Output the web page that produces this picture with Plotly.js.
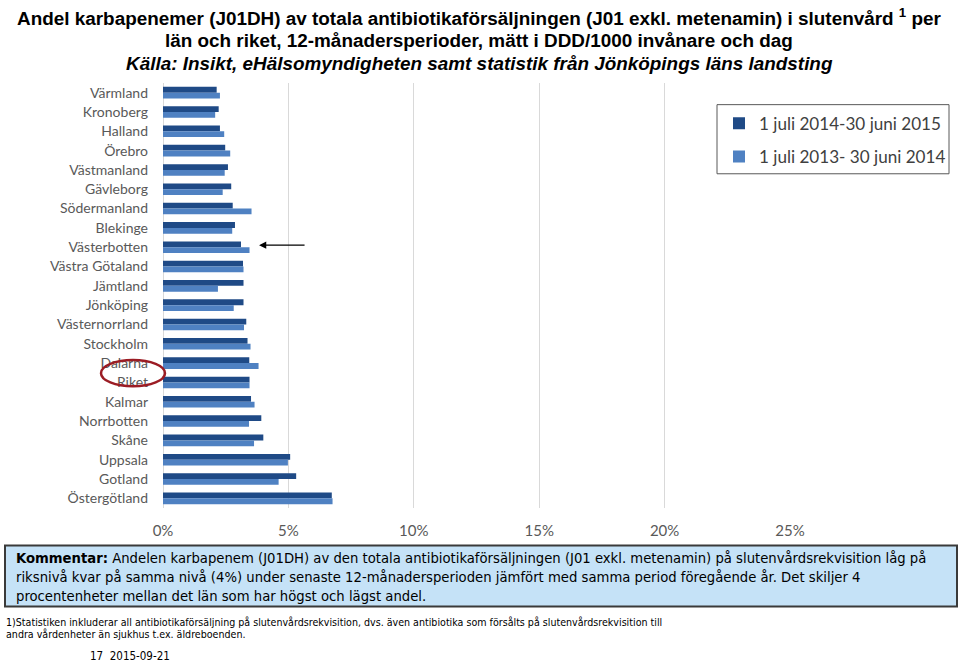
<!DOCTYPE html>
<html>
<head>
<meta charset="utf-8">
<script src="https://cdn.plot.ly/plotly-3.0.1.min.js"></script>
<style>html,body{margin:0;padding:0;background:#fff;overflow:hidden;}#chart{width:960px;height:663px;overflow:hidden;}</style>
</head>
<body>
<div id="chart"></div>
<script>
// ---- data ----
const regions = ["Värmland","Kronoberg","Halland","Örebro","Västmanland","Gävleborg","Södermanland","Blekinge","Västerbotten","Västra Götaland","Jämtland","Jönköping","Västernorrland","Stockholm","Dalarna","Riket","Kalmar","Norrbotten","Skåne","Uppsala","Gotland","Östergötland"];
const period2015 = [2.14,2.22,2.27,2.48,2.59,2.72,2.78,2.87,3.11,3.19,3.21,3.21,3.32,3.37,3.44,3.45,3.51,3.92,4.00,5.07,5.31,6.73];
const period2014 = [2.27,2.08,2.44,2.68,2.46,2.38,3.53,2.76,3.45,3.21,2.19,2.82,3.23,3.49,3.81,3.45,3.65,3.43,3.63,4.98,4.61,6.76];
const seriesNames = ["1 juli 2014-30 juni 2015","1 juli 2013- 30 juni 2014"];
const xTicks = [0,5,10,15,20,25];
const xTickLabels = ["0%","5%","10%","15%","20%","25%"];

// ---- layout helpers (pixel -> paper) ----
const L = 163, R = 790, T = 83.4, B = 507.6;
const px = p => (p - L) / (R - L);
const py = p => (B - p) / (B - T);

const traces = [
  {type:'bar', orientation:'h', name:seriesNames[0], y:regions, x:period2015,
   marker:{color:'#1f4a86'}, legendgroup:'a', hoverinfo:'x+y'},
  {type:'bar', orientation:'h', name:seriesNames[1], y:regions, x:period2014,
   marker:{color:'#4f81c2'}, legendgroup:'b', hoverinfo:'x+y'}
];

const titleFont = {family:'Liberation Sans, Arial, sans-serif', size:18.9, color:'#000'};
const boxFont = {family:'DejaVu Sans Condensed, DejaVu Sans, sans-serif', size:14.7, color:'#000'};
const noteFont = {family:'DejaVu Sans Condensed, DejaVu Sans, sans-serif', size:10.6, color:'#000'};

function ann(text, x, y, font, extra) {
  return Object.assign({text:text, xref:'paper', yref:'paper', x:px(x), y:py(y),
    xanchor:'left', yanchor:'middle', showarrow:false, font:font, align:'left'}, extra||{});
}

const layout = {
  width:960, height:663, autosize:false,
  margin:{l:L, r:960-R, t:T, b:663-B, pad:0, autoexpand:false},
  paper_bgcolor:'#fff', plot_bgcolor:'#fff',
  barmode:'group', bargap:0.4, bargroupgap:0,
  showlegend:true,
  legend:{x:px(719), y:py(106), xanchor:'left', yanchor:'top', bgcolor:'rgba(0,0,0,0)',
          borderwidth:0, font:{family:'Lato, sans-serif', size:17.1, color:'#404040'},
          tracegroupgap:8, traceorder:'grouped'},
  xaxis:{range:[0,25], tickvals:xTicks, ticktext:xTickLabels, showgrid:true, gridcolor:'#d9d9d9',
         zeroline:true, zerolinecolor:'#d9d9d9', showline:false, ticks:'', automargin:false,
         tickfont:{family:'Lato, sans-serif', size:15, color:'#595959'}, ticklabelstandoff:12, fixedrange:true},
  yaxis:{type:'category', categoryorder:'array', categoryarray:regions, autorange:'reversed',
         showgrid:false, zeroline:false, showline:false, ticks:'', automargin:false,
         tickfont:{family:'Lato, sans-serif', size:14, color:'#595959'}, ticklabelstandoff:14, fixedrange:true},
  shapes:[
    {type:'rect', xref:'paper', yref:'paper', x0:px(717), x1:px(949), y0:py(105), y1:py(174),
     line:{color:'#595959', width:1}, fillcolor:'rgba(0,0,0,0)'},
    {type:'circle', xref:'paper', yref:'paper', x0:px(101), x1:px(165), y0:py(360), y1:py(386),
     line:{color:'#9b1c24', width:2.5}, fillcolor:'rgba(0,0,0,0)'},
    {type:'rect', xref:'paper', yref:'paper', x0:px(5), x1:px(957), y0:py(545), y1:py(606),
     line:{color:'#3a3a3a', width:2}, fillcolor:'#c5e2f7', layer:'below'}
  ],
  annotations:[
    ann('<b>Andel karbapenemer (J01DH) av totala antibiotikaförsäljningen (J01 exkl. metenamin) i slutenvård <sup>1</sup> per</b>', 15, 18, titleFont),
    ann('<b>län och riket, 12-månadersperioder, mätt i DDD/1000 invånare och dag</b>', 163, 41, titleFont),
    ann('<b><i>Källa: Insikt, eHälsomyndigheten samt statistik från Jönköpings läns landsting</i></b>', 124, 64, titleFont),
    {text:'', xref:'x', yref:'y', x:3.83, y:'Västerbotten', yshift:2, ax:47, ay:0, axref:'pixel', ayref:'pixel',
     showarrow:true, arrowhead:2, arrowsize:1.2, arrowwidth:1.2, arrowcolor:'#000'},
    ann('<b>Kommentar:</b> Andelen karbapenem (J01DH) av den totala antibiotikaförsäljningen (J01 exkl. metenamin) på slutenvårdsrekvisition låg på', 14, 557, boxFont),
    ann('riksnivå kvar på samma nivå (4%) under senaste 12-månadersperioden jämfört med samma period föregående år. Det skiljer 4', 14, 576, boxFont),
    ann('procentenheter mellan det län som har högst och lägst andel.', 14, 595, boxFont),
    ann('1)Statistiken inkluderar all antibiotikaförsäljning på slutenvårdsrekvisition, dvs. även antibiotika som försålts på slutenvårdsrekvisition till', 4, 621, noteFont),
    ann('andra vårdenheter än sjukhus t.ex. äldreboenden.', 4, 633, noteFont),
    ann('17  2015-09-21', 88, 655, {family:'DejaVu Sans Condensed, DejaVu Sans, sans-serif', size:11.5, color:'#000'})
  ]
};

Plotly.newPlot('chart', traces, layout, {displayModeBar:false, staticPlot:true});
</script>
</body>
</html>
